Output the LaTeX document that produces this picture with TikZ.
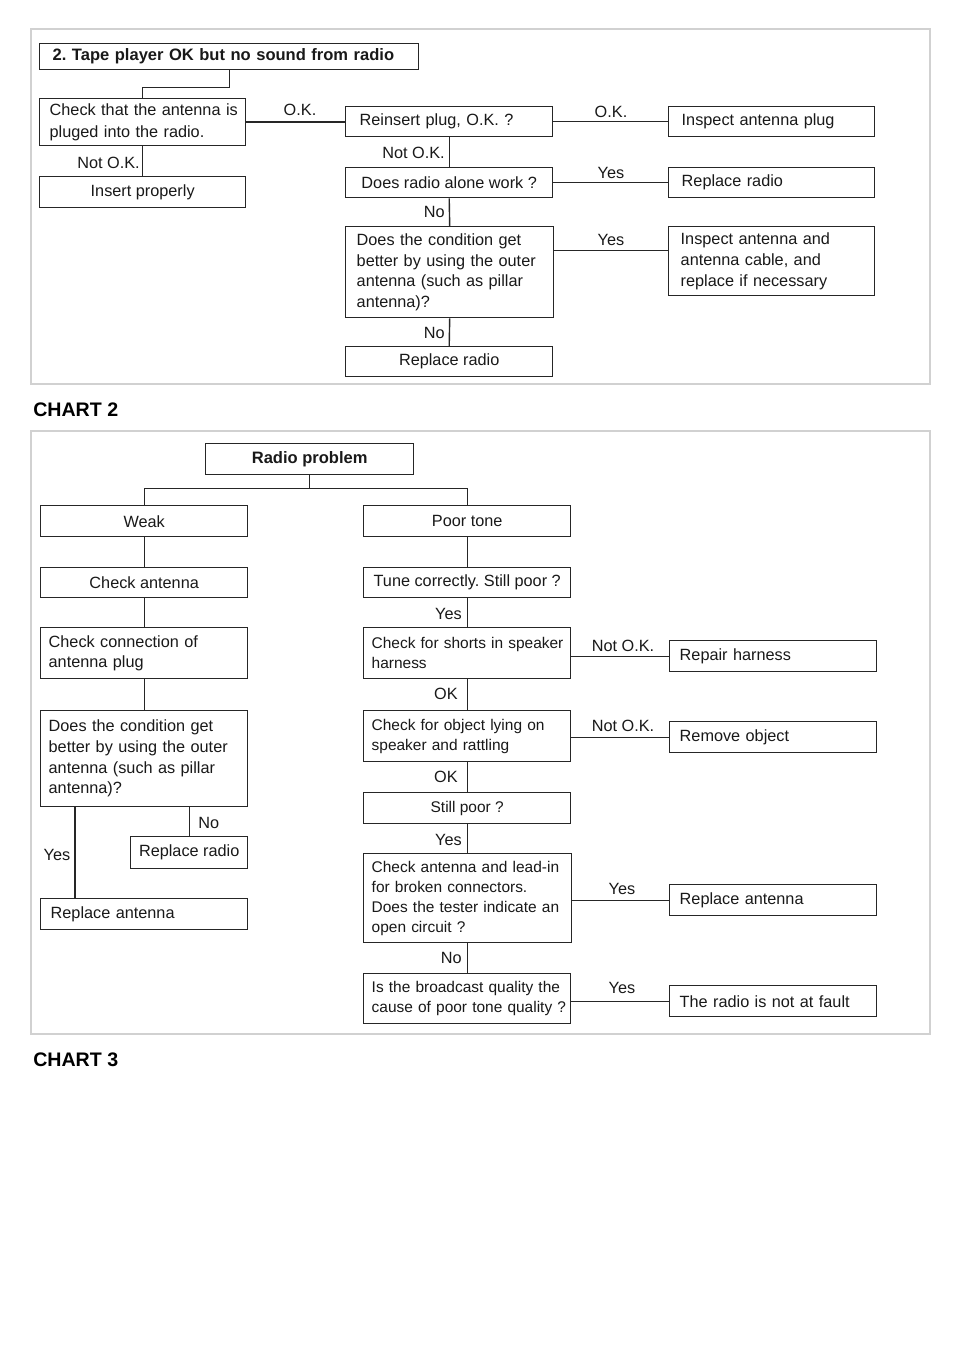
\documentclass[tikz,border=0pt]{standalone}
\usepackage{fontspec}
\setmainfont{Liberation Sans}
\usetikzlibrary{calc}
\frenchspacing
\newcommand\mybold{\fontsize{12.4}{15.5}\selectfont\bfseries}
\begin{document}
\begin{tikzpicture}[x=0.75pt,y=-0.75pt,
  every node/.style={font=\fontsize{12.2}{15.5}\selectfont, text=black!90},
  bx/.style={draw=black!85, line width=1.05pt, inner ysep=0pt, anchor=north west},
  bc/.style 2 args={bx, minimum width=#1*0.75pt, minimum height=#2*0.75pt, align=center, inner xsep=0pt},
  bl/.style n args={3}{bx, minimum width=#1*0.75pt, minimum height=#2*0.75pt, inner xsep=0pt,
     text width=#1*0.75pt, execute at begin node={\frenchspacing\raggedright\leftskip=\dimexpr 0.75pt*#3\relax}},
  sm/.style={font=\fontsize{11.6}{15}\selectfont},
  lab/.style={inner sep=0pt},
  ln/.style={draw=black!85, line width=1.05pt},
  frame/.style={draw=black!18, line width=1pt},
  chart/.style={inner sep=0pt, anchor=base west, font=\fontsize{14.7}{17}\selectfont\bfseries, text=black}
]
\useasboundingbox (0,0) rectangle (960,1358);
\fill[white] (0,0) rectangle (960,1358);

% ---------------- Chart 1 ----------------
\draw[frame] (31,29) rectangle (930,384);
\node[bl={379}{26}{13}, font=\mybold] (T) at (39,43) {2. Tape player OK but no sound from radio};
\node[bl={206}{47}{10}, font=\fontsize{12.2}{16.5}\selectfont] (A) at (39,98) {Check that the antenna is\\pluged into the radio.};
\node[bc={206}{31}] (I) at (39,176) {Insert properly};
\node[bl={207}{30}{14}] (R) at (345,106) {Reinsert plug, O.K. ?};
\node[bl={206}{30}{13}] (IP) at (668,106) {Inspect antenna plug};
\node[bc={207}{30}] (D) at (345,167) {Does radio alone work ?};
\node[bl={206}{30}{13}] (RR2) at (668,167) {Replace radio};
\node[bl={208}{91}{11}] (C) at (345,226) {Does the condition get\\better by using the outer\\antenna (such as pillar\\antenna)?};
\node[bl={206}{69}{12}] (IA) at (668,226) {Inspect antenna and\\antenna cable, and\\replace if necessary};
\node[bc={207}{30}] (RR) at (345,346) {Replace radio};

\draw[ln] (T.south) -- ++(0,17) -| (A.north);
\draw[ln] (A.east) -- (A.east -| R.west);
\draw[ln] (R.east) -- (IP.west);
\draw[ln] (A.south) -- (I.north);
\draw[ln] (R.south) -- (D.north);
\draw[ln] (D.east) -- (RR2.west);
\draw[ln] (D.south) -- (C.north);
\draw[ln] ($(C.north east)+(0,24.5)$) -- ($(IA.north west)+(0,24.5)$);
\draw[ln] (C.south) -- (RR.north);

\node[lab, anchor=base] (l1) at (300,116) {O.K.};
\node[lab, anchor=base] (l2) at (611,118) {O.K.};
\node[lab, anchor=base east] (l3) at (140,169) {Not O.K.};
\node[lab, anchor=base east] (l4) at (445,159) {Not O.K.};
\node[lab, anchor=base] (l5) at (611,179) {Yes};
\node[lab, anchor=base east] (l6) at (445,218) {No};
\node[lab, anchor=base] (l7) at (611,246) {Yes};
\node[lab, anchor=base east] (l8) at (445,339) {No};

\node[chart] (c2) at (33,416.5) {CHART 2};

% ---------------- Chart 2 ----------------
\draw[frame] (31,431) rectangle (930,1034);
\node[bc={208}{31}, font=\mybold] (RP) at (205,443) {Radio problem};
\node[bc={207}{31}] (W) at (40,505) {Weak};
\node[bc={207}{31}] (P) at (363,505) {Poor tone};
\node[bc={207}{30}] (CA) at (40,567) {Check antenna};
\node[bc={207}{30}] (TC) at (363,567) {Tune correctly. Still poor ?};
\node[bl={207}{51}{8}] (CC) at (40,627) {Check connection of\\antenna plug};
\node[bl={207}{51}{8}, sm] (SH) at (363,627) {Check for shorts in speaker\\harness};
\node[bl={207}{96}{8}] (CD) at (40,710) {Does the condition get\\better by using the outer\\antenna (such as pillar\\antenna)?};
\node[bc={117}{32}] (RR3) at (130,836) {Replace radio};
\node[bl={207}{31}{10}] (RA) at (40,898) {Replace antenna};
\node[bl={207}{51}{8}, sm] (OB) at (363,710) {Check for object lying on\\speaker and rattling};
\node[bc={207}{31}, sm] (SP) at (363,792) {Still poor ?};
\node[bl={208}{89}{8}, sm] (CL) at (363,853) {Check antenna and lead-in\\for broken connectors.\\Does the tester indicate an\\open circuit ?};
\node[bl={207}{50}{8}, sm] (BQ) at (363,973) {Is the broadcast quality the\\cause of poor tone quality ?};
\node[bl={207}{31}{10}] (RH) at (669,640) {Repair harness};
\node[bl={207}{31}{10}] (RO) at (669,721) {Remove object};
\node[bl={207}{31}{10}] (RA2) at (669,884) {Replace antenna};
\node[bl={207}{31}{10}] (NF) at (669,985) {The radio is not at fault};

\draw[ln] (RP.south) -- ++(0,13) coordinate (j);
\draw[ln] (W.north) |- (j) -| (P.north);
\draw[ln] (W.south) -- (CA.north);
\draw[ln] (CA.south) -- (CC.north);
\draw[ln] (CC.south) -- (CD.north);
\draw[ln] ($(CD.south west)+(35,0)$) -- ($(RA.north west)+(35,0)$);
\draw[ln] (RR3.north) -- (RR3.north |- CD.south);
\draw[ln] (P.south) -- (TC.north);
\draw[ln] (TC.south) -- (SH.north);
\draw[ln] (SH.south) -- (OB.north);
\draw[ln] (OB.south) -- (SP.north);
\draw[ln] (SP.south) -- (CL.north -| SP.south);
\draw[ln] (CL.south -| BQ.north) -- (BQ.north);
\draw[ln] (RH.west -| SH.east) -- (RH.west);
\draw[ln] (RO.west -| OB.east) -- (RO.west);
\draw[ln] (RA2.west -| CL.east) -- (RA2.west);
\draw[ln] (NF.west -| BQ.east) -- (NF.west);

\node[lab, anchor=base] (m1) at (57,860) {Yes};
\node[lab, anchor=base west] (m2) at (198,828) {No};
\node[lab, anchor=base east] (m3) at (462,619) {Yes};
\node[lab, anchor=base east] (m4) at (458,699) {OK};
\node[lab, anchor=base east] (m5) at (458,782) {OK};
\node[lab, anchor=base east] (m6) at (462,845) {Yes};
\node[lab, anchor=base east] (m7) at (462,963) {No};
\node[lab, anchor=base] (m8) at (623,651) {Not O.K.};
\node[lab, anchor=base] (m9) at (623,731) {Not O.K.};
\node[lab, anchor=base] (m10) at (622,894) {Yes};
\node[lab, anchor=base] (m11) at (622,993) {Yes};

\node[chart] (c3) at (33,1066.5) {CHART 3};
\end{tikzpicture}
\end{document}
